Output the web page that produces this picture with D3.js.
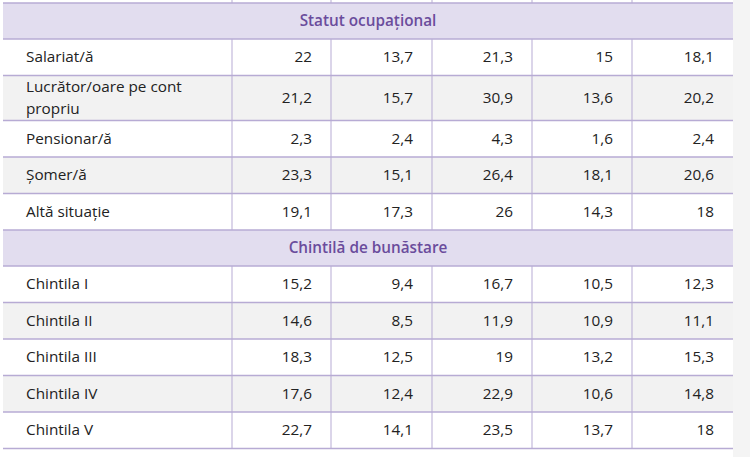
<!DOCTYPE html><html><head><meta charset="utf-8"><script src="https://cdn.jsdelivr.net/npm/d3@7"></script>
<style>body{margin:0;background:#fff}</style></head><body><svg id="c" width="750" height="457"></svg>
<script>
const sections=["Statut ocupațional","Chintilă de bunăstare"];
const rowLabels=[["Salariat/ă","Lucrător/oare pe cont|propriu","Pensionar/ă","Șomer/ă","Altă situație"],["Chintila I","Chintila II","Chintila III","Chintila IV","Chintila V"]];
const values=[[[22,13.7,21.3,15,18.1],[21.2,15.7,30.9,13.6,20.2],[2.3,2.4,4.3,1.6,2.4],[23.3,15.1,26.4,18.1,20.6],[19.1,17.3,26,14.3,18]],
[[15.2,9.4,16.7,10.5,12.3],[14.6,8.5,11.9,10.9,11.1],[18.3,12.5,19,13.2,15.3],[17.6,12.4,22.9,10.6,14.8],[22.7,14.1,23.5,13.7,18]]];
const svg=d3.select("#c");
const colX=[3,232,331,432,532,632,733];
const line="#b7abd4", band="#e2ddef", purple="#6a4c9c", F="Open Sans", FS=15.3;
svg.append("rect").attr("x",733).attr("y",0).attr("width",17).attr("height",457).attr("fill","#f4f4f4");
let y=3;const rows=[];
sections.forEach((s,si)=>{rows.push({type:"h",text:s,y,h:36});y+=36;
rowLabels[si].forEach((l,i)=>{const h=l.includes("|")?45:36.5;rows.push({type:"r",label:l,vals:values[si][i],y,h,alt:i%2==1});y+=h;});});
const fmt=v=>String(v).replace(".",",");
colX.slice(1,6).forEach(cx=>svg.append("line").attr("x1",cx).attr("x2",cx).attr("y1",0).attr("y2",3).attr("stroke",line));
rows.forEach(r=>{
 if(r.type=="h"){svg.append("rect").attr("x",3).attr("y",r.y).attr("width",730).attr("height",r.h).attr("fill",band);
  svg.append("text").attr("x",368).attr("y",r.y+r.h/2+5).attr("text-anchor","middle").attr("fill",purple).attr("font-weight",600).attr("font-size",FS).attr("font-family",F).text(r.text);}
 else{svg.append("rect").attr("x",3).attr("y",r.y).attr("width",730).attr("height",r.h).attr("fill",r.alt?"#f2f2f2":"#fff");
  const parts=r.label.split("|");
  parts.forEach((p,k)=>svg.append("text").attr("x",26).attr("y",r.y+r.h/2+5+(k-(parts.length-1)/2)*22).attr("font-size",FS).attr("font-family",F).attr("fill","#222").text(p));
  r.vals.forEach((v,j)=>svg.append("text").attr("x",colX[j+2]-19).attr("y",r.y+r.h/2+5).attr("text-anchor","end").attr("font-size",FS).attr("font-family",F).attr("fill","#222").text(fmt(v)));
  colX.slice(1,6).forEach(cx=>svg.append("line").attr("x1",cx).attr("x2",cx).attr("y1",r.y).attr("y2",r.y+r.h).attr("stroke",line));
 }
 svg.append("line").attr("x1",3).attr("x2",733).attr("y1",r.y).attr("y2",r.y).attr("stroke",line).attr("stroke-width",1.5);
});
svg.append("line").attr("x1",3).attr("x2",733).attr("y1",y).attr("y2",y).attr("stroke",line).attr("stroke-width",1.5);
</script></body></html>
